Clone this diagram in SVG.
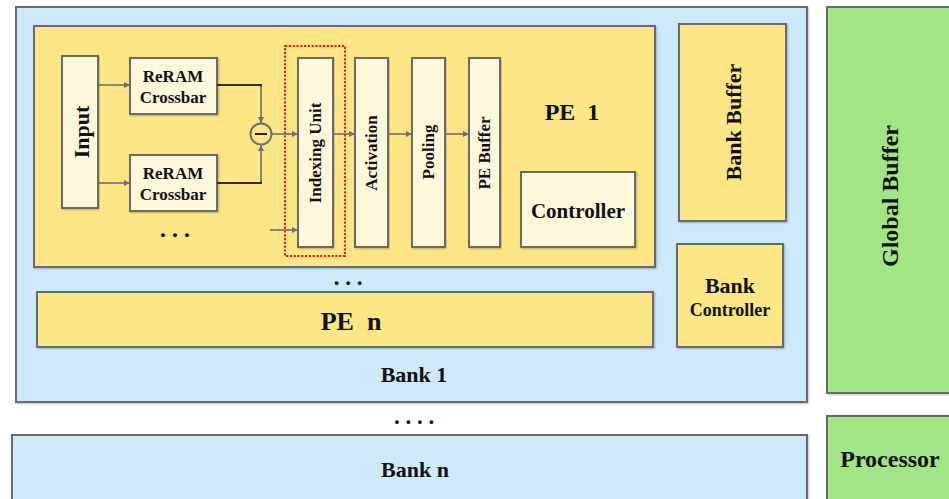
<svg xmlns="http://www.w3.org/2000/svg" width="949" height="499" viewBox="0 0 949 499">
  <defs>
    <filter id="shadow" x="-5%" y="-5%" width="110%" height="110%">
      <feDropShadow dx="1" dy="1" stdDeviation="0.8" flood-color="#000" flood-opacity="0.25"/>
    </filter>
    <marker id="arrow" viewBox="0 0 10 10" refX="10" refY="5" markerWidth="6" markerHeight="6" markerUnits="userSpaceOnUse" orient="auto">
      <path d="M0,0 L10,5 L0,10 z" fill="#6e6e6e"/>
    </marker>
  </defs>
  <style>
    .box { stroke: #6b6b6b; stroke-width: 2; filter: url(#shadow); }
    .bank { fill: #cdeafc; }
    .pe { fill: #fee585; }
    .unit { fill: #fff7da; }
    .green { fill: #a1e685; }
    .t { font-family: "Liberation Serif", "Times New Roman", serif; font-weight: bold; fill: #111; text-anchor: middle; }
    .link { fill: none; stroke: #6e6e6e; stroke-width: 1.6; }
    .wire { fill: none; stroke: #2e2e2e; stroke-width: 2; }
  </style>

  <rect width="949" height="499" fill="#ffffff"/>

  <!-- Bank 1 -->
  <g id="bank1">
    <rect class="box bank" x="16" y="7" width="791" height="395"/>
    <text class="t" x="414" y="382" font-size="22">Bank 1</text>
  </g>

  <!-- Bank n -->
  <g id="bankn">
    <rect class="box bank" x="12" y="435" width="795" height="70"/>
    <text class="t" x="415" y="477" font-size="22">Bank n</text>
  </g>

  <!-- PE 1 -->
  <g id="pe1">
    <rect class="box pe" x="34" y="26" width="621" height="241"/>
    <text class="t" x="572" y="120" font-size="24" xml:space="preserve">PE  1</text>
  </g>

  <!-- PE n -->
  <g id="pen">
    <rect class="box pe" x="37" y="292" width="616" height="55"/>
    <text class="t" x="351" y="330" font-size="26" xml:space="preserve">PE  n</text>
  </g>

  <g id="input">
    <rect class="box unit" x="62" y="56" width="36" height="152"/>
    <text class="t" font-size="22" transform="translate(89,132) rotate(-90)">Input</text>
  </g>

  <g id="crossbar1">
    <rect class="box unit" x="130" y="58" width="87" height="56"/>
    <text class="t" x="173" y="82" font-size="17">ReRAM</text>
    <text class="t" x="173" y="103" font-size="17">Crossbar</text>
  </g>

  <g id="crossbar2">
    <rect class="box unit" x="130" y="155" width="87" height="56"/>
    <text class="t" x="173" y="179" font-size="17">ReRAM</text>
    <text class="t" x="173" y="200" font-size="17">Crossbar</text>
  </g>

  <g id="subtract">
    <circle cx="261" cy="134" r="10.5" fill="none" stroke="#6e6e6e" stroke-width="2"/>
    <line x1="255" y1="134" x2="267" y2="134" stroke="#222" stroke-width="2"/>
  </g>

  <g id="indexing-unit">
    <rect class="box unit" x="298" y="58" width="35" height="189"/>
    <text class="t" font-size="17" transform="translate(321,153) rotate(-90)">Indexing Unit</text>
  </g>

  <g id="index-highlight">
    <rect x="285" y="46" width="60" height="210" fill="none" stroke="#f01a1a" stroke-width="2" stroke-dasharray="2.2 1.6"/>
  </g>

  <g id="activation">
    <rect class="box unit" x="355" y="58" width="33" height="189"/>
    <text class="t" font-size="17" transform="translate(377,153) rotate(-90)">Activation</text>
  </g>

  <g id="pooling">
    <rect class="box unit" x="412" y="58" width="33" height="189"/>
    <text class="t" font-size="17" transform="translate(434,152) rotate(-90)">Pooling</text>
  </g>

  <g id="pe-buffer">
    <rect class="box unit" x="469" y="58" width="31" height="189"/>
    <text class="t" font-size="17" transform="translate(490,153) rotate(-90)">PE Buffer</text>
  </g>

  <g id="controller">
    <rect class="box unit" x="521" y="172" width="114" height="75"/>
    <text class="t" x="578" y="218" font-size="21">Controller</text>
  </g>

  <g id="bank-buffer">
    <rect class="box pe" x="679" y="24" width="107" height="197"/>
    <text class="t" font-size="22" transform="translate(741,122) rotate(-90)">Bank Buffer</text>
  </g>

  <g id="bank-controller">
    <rect class="box pe" x="677" y="244" width="106" height="103"/>
    <text class="t" x="730" y="293" font-size="22">Bank</text>
    <text class="t" x="730" y="316" font-size="18">Controller</text>
  </g>

  <g id="global-buffer">
    <rect class="box green" x="827" y="7" width="130" height="386"/>
    <text class="t" font-size="24" transform="translate(898,196) rotate(-90)">Global Buffer</text>
  </g>

  <g id="processor">
    <rect class="box green" x="827" y="416" width="130" height="90"/>
    <text class="t" x="890" y="467" font-size="24">Processor</text>
  </g>

  <!-- ellipses marking repeated items -->
  <g id="ellipses" class="t">
    <text x="175" y="237" font-size="24" xml:space="preserve">. . .</text>
    <text x="348" y="285" font-size="23" xml:space="preserve">. . .</text>
    <text x="414" y="424" font-size="23" xml:space="preserve">. . . .</text>
  </g>

  <!-- connectors -->
  <g id="connectors">
    <line class="link" x1="98" y1="85" x2="130" y2="85" marker-end="url(#arrow)"/>
    <line class="link" x1="98" y1="183" x2="130" y2="183" marker-end="url(#arrow)"/>
    <polyline class="wire" points="217,85 261,85 261,87"/>
    <line class="link" x1="261" y1="86" x2="261" y2="123" marker-end="url(#arrow)"/>
    <polyline class="wire" points="217,183 261,183 261,181"/>
    <line class="link" x1="261" y1="182" x2="261" y2="145" marker-end="url(#arrow)"/>
    <line class="link" x1="272" y1="134" x2="298" y2="134" marker-end="url(#arrow)"/>
    <line class="link" x1="270" y1="230" x2="298" y2="230" marker-end="url(#arrow)"/>
    <line class="link" x1="333" y1="134" x2="355" y2="134" marker-end="url(#arrow)"/>
    <line class="link" x1="388" y1="134" x2="412" y2="134" marker-end="url(#arrow)"/>
    <line class="link" x1="445" y1="134" x2="469" y2="134" marker-end="url(#arrow)"/>
  </g>
</svg>
